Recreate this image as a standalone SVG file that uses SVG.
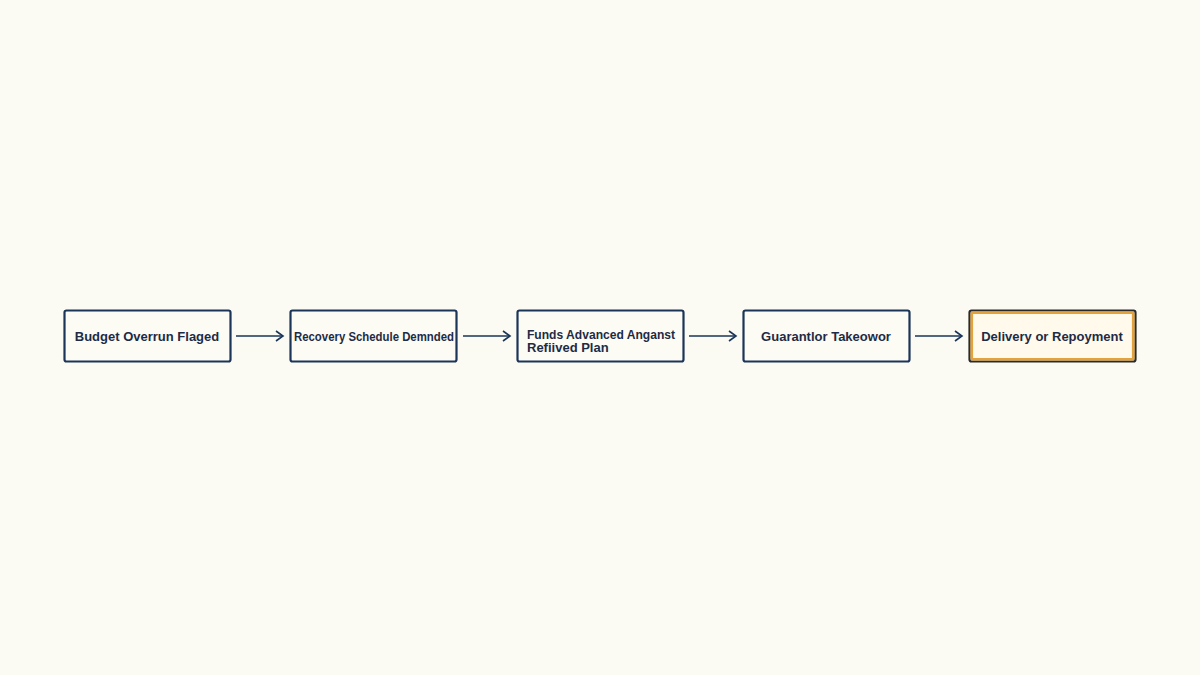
<svg xmlns="http://www.w3.org/2000/svg" width="1200" height="675" viewBox="0 0 1200 675">
<style>
.box{fill:#fcfbf4;stroke:#1b3558;stroke-width:2.2}
.t{font-family:"Liberation Sans",Arial,sans-serif;font-size:13px;font-weight:bold;fill:#1e2b45}
.c{stroke:#1b3558;stroke-width:1.6;fill:none}
</style>
<defs>
<marker id="ah" markerWidth="10" markerHeight="12" refX="8" refY="6" orient="auto" markerUnits="userSpaceOnUse">
<path d="M1,1 L8,6 L1,11" fill="none" stroke="#1b3558" stroke-width="1.6"/>
</marker>
</defs>
<rect width="1200" height="675" fill="#fbfaf3"/>
<g id="connectors">
<line class="c" x1="236" y1="336" x2="283" y2="336" marker-end="url(#ah)"/>
<line class="c" x1="463" y1="336" x2="510" y2="336" marker-end="url(#ah)"/>
<line class="c" x1="689" y1="336" x2="736" y2="336" marker-end="url(#ah)"/>
<line class="c" x1="915" y1="336" x2="962" y2="336" marker-end="url(#ah)"/>
</g>
<g id="n1">
<rect class="box" x="64.5" y="310.5" width="166" height="51" rx="2"/>
<text class="t" x="147" y="340.5" text-anchor="middle">Budget Overrun Flaged</text>
</g>
<g id="n2">
<rect class="box" x="290.5" y="310.5" width="166" height="51" rx="2"/>
<text class="t" x="374" y="340.5" text-anchor="middle" textLength="160" lengthAdjust="spacingAndGlyphs">Recovery Schedule Demnded</text>
</g>
<g id="n3">
<rect class="box" x="517.5" y="310.5" width="166" height="51" rx="2"/>
<text class="t" x="527" y="339" font-size="12" textLength="148" lengthAdjust="spacingAndGlyphs">Funds Advanced Anganst</text>
<text class="t" x="527" y="352" font-size="12">Refiived Plan</text>
</g>
<g id="n4">
<rect class="box" x="743.5" y="310.5" width="166" height="51" rx="2"/>
<text class="t" x="826" y="340.5" text-anchor="middle">Guarantlor Takeowor</text>
</g>
<g id="n5">
<rect x="969.5" y="310.5" width="166" height="51" rx="2" fill="#fffaec" stroke="#2a2a2a" stroke-width="2.2"/>
<rect x="971.8" y="312.8" width="161.4" height="46.4" rx="1" fill="none" stroke="#e3a23c" stroke-width="2.6"/>
<text class="t" x="1052" y="340.5" text-anchor="middle">Delivery or Repoyment</text>
</g>
</svg>
